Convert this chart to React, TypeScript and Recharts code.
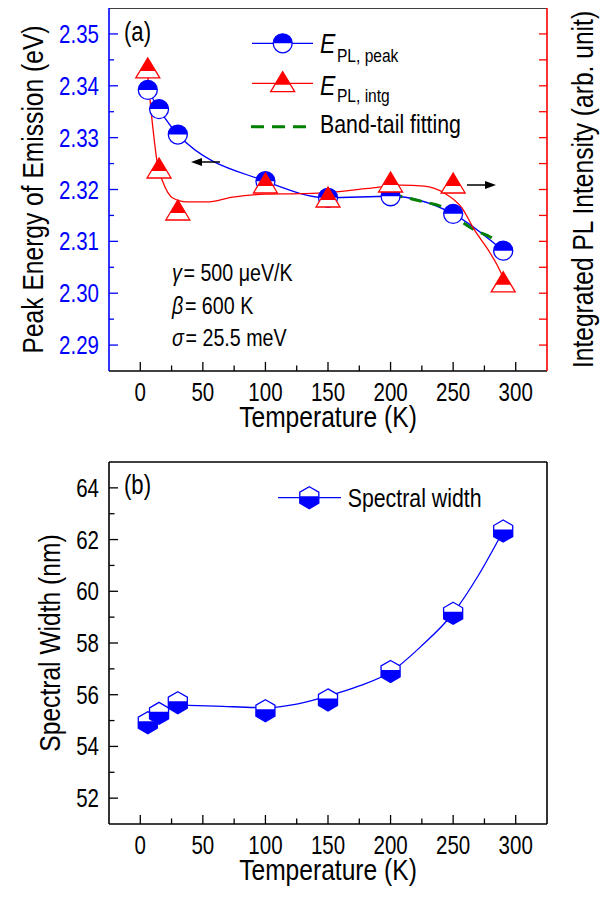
import React from 'react';
import { ComposedChart, Line, XAxis, YAxis, Legend, ReferenceLine } from 'recharts';

const FONT = "'Liberation Sans', Arial, sans-serif";
const SX = 0.82; // horizontal squeeze, the figure uses a narrow face
const BLUE = '#0000ff';
const RED = '#ff0000';
const GREEN = '#008000';
const BLACK = '#000000';

// ---- panel (a): peak energy / integrated intensity vs temperature
const tempA = [6, 15, 30, 100, 150, 200, 250, 290];
const peakEnergy = [2.3392, 2.3355, 2.3306, 2.3216, 2.3184, 2.3187, 2.3153, 2.3082];
const intgIntensity = [11.69, 7.83, 6.21, 7.25, 6.71, 7.29, 7.25, 3.44];

// red guide curve (read off the figure, not through the points)
const intgCurveT = [6, 10, 14, 18, 26, 37, 53, 74, 100, 128, 150, 182, 208, 227, 243, 257, 267, 278, 286, 290];
const intgCurve = [11.4, 9.4, 7.9, 7.3, 6.67, 6.52, 6.52, 6.71, 6.82, 6.84, 6.88, 7.04, 7.17, 7.13, 6.86, 6.29, 5.44, 4.67, 4.01, 3.6];

// green band-tail fit
const bandTailT = [200, 225, 243, 255, 267, 280, 287];
const bandTail = [2.3191, 2.3177, 2.3164, 2.3141, 2.3122, 2.3108, 2.3097];

// ---- panel (b): spectral width
const tempB = [6, 15, 30, 100, 150, 200, 250, 290];
const spectralWidth = [54.92, 55.28, 55.69, 55.38, 55.8, 56.9, 59.15, 62.33];
const widthCurveT = [30, 60, 100, 125, 150, 175, 200, 225, 250, 270, 290];
const widthCurve = [55.6, 55.56, 55.5, 55.64, 55.95, 56.34, 56.88, 57.9, 59.15, 60.6, 62.33];

// ticks
const xTicks = [0, 25, 50, 75, 100, 125, 150, 175, 200, 225, 250, 275, 300];
const energyTicks = [2.29, 2.295, 2.3, 2.305, 2.31, 2.315, 2.32, 2.325, 2.33, 2.335, 2.34, 2.345, 2.35];
const intensityTicks = [1, 2, 3, 4, 5, 6, 7, 8, 9, 10, 11, 12, 13];
const widthTicks = [52, 53, 54, 55, 56, 57, 58, 59, 60, 61, 62, 63, 64];

const pairs = (xs: number[], ys: number[]) => xs.map((t, i) => ({ t, v: ys[i] }));
const peakData = pairs(tempA, peakEnergy);
const intgData = pairs(tempA, intgIntensity);
const intgCurveData = pairs(intgCurveT, intgCurve);
const bandTailData = pairs(bandTailT, bandTail);
const widthData = pairs(tempB, spectralWidth);
const widthCurveData = pairs(widthCurveT, widthCurve);

// plot box (page pixels)
const PL = 109;
const PR = 547;
const A_BOTTOM = 371;
const B_BOTTOM = 374; // relative to panel (b) chart

// narrow text: Liberation Sans squeezed horizontally
function NText({ x, y, size, anchor = 'start', fill = BLACK, rotate = 0, dy, italic, children }: any) {
  const tf = `translate(${x},${y})${rotate ? ` rotate(${rotate})` : ''} scale(${SX},1)`;
  return (
    <text transform={tf} textAnchor={anchor} fontSize={size} fontFamily={FONT} fill={fill} dy={dy}
      fontStyle={italic ? 'italic' : undefined}>
      {children}
    </text>
  );
}

// ---- markers
function HalfCircle({ cx, cy }: any) {
  const r = 9.5;
  return (
    <g>
      <circle cx={cx} cy={cy} r={r} fill="#fff" />
      <path d={`M${cx - r},${cy} A${r},${r} 0 0 1 ${cx + r},${cy} Z`} fill={BLUE} />
      <circle cx={cx} cy={cy} r={r} fill="none" stroke={BLUE} strokeWidth={1.3} />
    </g>
  );
}

function HalfTriangle({ cx, cy }: any) {
  const top = cy - 10, base = cy + 10, split = cy + 3, hw = 12, k = (split - top) / (base - top);
  const full = `${cx},${top} ${cx - hw},${base} ${cx + hw},${base}`;
  return (
    <g>
      <polygon points={full} fill="#fff" />
      <polygon points={`${cx},${top} ${cx - hw * k},${split} ${cx + hw * k},${split}`} fill={RED} />
      <polygon points={full} fill="none" stroke={RED} strokeWidth={1.3} />
    </g>
  );
}

function HalfHexagon({ cx, cy }: any) {
  const r = 11, w = r * Math.cos(Math.PI / 6), s = -1.5;
  const pts = `${cx},${cy - r} ${cx + w},${cy - r / 2} ${cx + w},${cy + r / 2} ${cx},${cy + r} ${cx - w},${cy + r / 2} ${cx - w},${cy - r / 2}`;
  return (
    <g>
      <polygon points={pts} fill="#fff" />
      <polygon points={`${cx - w},${cy + s} ${cx + w},${cy + s} ${cx + w},${cy + r / 2} ${cx},${cy + r} ${cx - w},${cy + r / 2}`} fill={BLUE} />
      <polygon points={pts} fill="none" stroke={BLUE} strokeWidth={1.3} />
    </g>
  );
}

// ---- inward ticks
function XTick({ x, payload, base }: any) {
  const major = payload.value % 50 === 0;
  return (
    <g>
      <line x1={x} x2={x} y1={base} y2={base - (major ? 9 : 5.5)} stroke={BLACK} strokeWidth={1.3} />
      {major && <NText x={x} y={base + 30} size={25} anchor="middle">{payload.value}</NText>}
    </g>
  );
}

function EnergyTick({ y, payload }: any) {
  const v = payload.value;
  const major = Math.abs(v * 100 - Math.round(v * 100)) < 1e-6;
  return (
    <g>
      <line x1={PL} x2={PL + (major ? 9 : 5)} y1={y} y2={y} stroke={BLUE} strokeWidth={1.3} />
      {major && <NText x={PL - 10} y={y} dy="0.36em" size={25} anchor="end" fill={BLUE}>{v.toFixed(2)}</NText>}
    </g>
  );
}

function IntensityTick({ y }: any) {
  return <line x1={PR} x2={PR - 8} y1={y} y2={y} stroke={RED} strokeWidth={1.3} />;
}

function WidthTick({ y, payload }: any) {
  const major = payload.value % 2 === 0;
  return (
    <g>
      <line x1={PL} x2={PL + (major ? 9 : 5.5)} y1={y} y2={y} stroke={BLACK} strokeWidth={1.3} />
      {major && <NText x={PL - 10} y={y} dy="0.36em" size={25} anchor="end">{payload.value}</NText>}
    </g>
  );
}

function WidthTickRight({ y, payload }: any) {
  const major = payload.value % 2 === 0;
  return <line x1={PR} x2={PR - (major ? 9 : 5.5)} y1={y} y2={y} stroke={BLACK} strokeWidth={1.3} />;
}

// axis titles, drawn from the axis viewBox
const xTitle = (gap: number) => (p: any) => {
  const vb = p.viewBox;
  return <NText x={vb.x + vb.width / 2} y={vb.y + gap} size={30} anchor="middle">Temperature (K)</NText>;
};
const yTitle = (text: string, cx: number) => (p: any) => {
  const vb = p.viewBox;
  return <NText x={cx} y={vb.y + vb.height / 2} dy={11} rotate={-90} size={30} anchor="middle">{text}</NText>;
};

// ---- legends
function LegendA() {
  return (
    <svg width={240} height={115} style={{ overflow: 'visible' }}>
      <line x1={7} x2={68} y1={18.3} y2={18.3} stroke={BLUE} strokeWidth={1.3} />
      <HalfCircle cx={37.7} cy={18.3} />
      <NText x={75} y={28.3} size={28}>
        <tspan fontStyle="italic">E</tspan>
        <tspan fontSize={19} dy={8.4} dx={2}>PL, peak</tspan>
      </NText>
      <line x1={7} x2={68} y1={58.3} y2={58.3} stroke={RED} strokeWidth={1.3} />
      <HalfTriangle cx={37.7} cy={56.7} />
      <NText x={75} y={70} size={28}>
        <tspan fontStyle="italic">E</tspan>
        <tspan fontSize={19} dy={6.7} dx={2}>PL, intg</tspan>
      </NText>
      <line x1={6} x2={66} y1={101.7} y2={101.7} stroke={GREEN} strokeWidth={3} strokeDasharray="13 8" />
      <NText x={75} y={108.3} size={26}>Band-tail fitting</NText>
    </svg>
  );
}

function LegendB() {
  return (
    <svg width={220} height={40} style={{ overflow: 'visible' }}>
      <line x1={3} x2={66} y1={17.7} y2={17.7} stroke={BLUE} strokeWidth={1.3} />
      <HalfHexagon cx={34.3} cy={17.7} />
      <NText x={72.7} y={27} size={26}>Spectral width</NText>
    </svg>
  );
}

export default function App() {
  return (
    <div style={{ position: 'relative', width: 608, height: 897, margin: '-8px 0 0 -8px', background: '#fff' }}>

      {/* (a) */}
      <div style={{ position: 'absolute', left: 0, top: 0 }}>
        <ComposedChart width={608} height={450} margin={{ top: 8, right: 0, bottom: 0, left: 0 }}>
          <XAxis
            dataKey="t" type="number" domain={[-25, 325]} ticks={xTicks} interval={0} height={79}
            axisLine={{ stroke: BLACK, strokeWidth: 1.6 }} tickLine={false}
            tick={(p: any) => <XTick {...p} base={A_BOTTOM} />}
            label={xTitle(56)}
          />
          <YAxis
            yAxisId="e" type="number" domain={[2.285, 2.355]} ticks={energyTicks} interval={0} width={PL}
            axisLine={{ stroke: BLUE, strokeWidth: 1.6 }} tickLine={false} tick={(p: any) => <EnergyTick {...p} />}
            label={yTitle('Peak Energy of Emission (eV)', 32)}
          />
          <YAxis
            yAxisId="i" orientation="right" type="number" domain={[0, 14]} ticks={intensityTicks} interval={0} width={608 - PR}
            axisLine={{ stroke: RED, strokeWidth: 1.6 }} tickLine={false} tick={(p: any) => <IntensityTick {...p} />}
            label={yTitle('Integrated PL Intensity (arb. unit)', 582)}
          />
          <ReferenceLine yAxisId="e" y={2.355} stroke={BLACK} strokeWidth={1.6} />
          <Line
            yAxisId="e" data={peakData} dataKey="v" type="monotone" stroke={BLUE} strokeWidth={1.3}
            dot={(p: any) => <HalfCircle key={p.index} cx={p.cx} cy={p.cy} />} activeDot={false} isAnimationActive={false}
          />
          <Line
            yAxisId="e" data={bandTailData} dataKey="v" type="monotone" stroke={GREEN} strokeWidth={3}
            strokeDasharray="12 8" dot={false} activeDot={false} isAnimationActive={false}
          />
          <Line
            yAxisId="i" data={intgData} dataKey="v" stroke="none"
            dot={(p: any) => <HalfTriangle key={p.index} cx={p.cx} cy={p.cy} />} activeDot={false} isAnimationActive={false}
          />
          <Line
            yAxisId="i" data={intgCurveData} dataKey="v" type="monotone" stroke={RED} strokeWidth={1.3}
            dot={false} activeDot={false} isAnimationActive={false}
          />
          <Legend
            layout="horizontal" verticalAlign="middle" align="center"
            wrapperStyle={{ left: 245, top: 25, width: 240, height: 115 }}
            content={() => <LegendA />}
          />
        </ComposedChart>
      </div>

      {/* (b) */}
      <div style={{ position: 'absolute', left: 0, top: 450 }}>
        <ComposedChart width={608} height={447} margin={{ top: 12, right: 0, bottom: 0, left: 0 }}>
          <XAxis
            dataKey="t" type="number" domain={[-25, 325]} ticks={xTicks} interval={0} height={73}
            axisLine={{ stroke: BLACK, strokeWidth: 1.6 }} tickLine={false}
            tick={(p: any) => <XTick {...p} base={B_BOTTOM} />}
            label={xTitle(56)}
          />
          <YAxis
            yAxisId="w" type="number" domain={[51, 65]} ticks={widthTicks} interval={0} width={PL}
            axisLine={{ stroke: BLACK, strokeWidth: 1.6 }} tickLine={false} tick={(p: any) => <WidthTick {...p} />}
            label={yTitle('Spectral Width (nm)', 49)}
          />
          <YAxis
            yAxisId="wr" orientation="right" type="number" domain={[51, 65]} ticks={widthTicks} interval={0} width={608 - PR}
            axisLine={{ stroke: BLACK, strokeWidth: 1.6 }} tickLine={false} tick={(p: any) => <WidthTickRight {...p} />}
          />
          <ReferenceLine yAxisId="w" y={65} stroke={BLACK} strokeWidth={1.6} />
          <Line
            yAxisId="w" data={widthCurveData} dataKey="v" type="monotone" stroke={BLUE} strokeWidth={1.3}
            dot={false} activeDot={false} isAnimationActive={false}
          />
          <Line
            yAxisId="w" data={widthData} dataKey="v" stroke="none"
            dot={(p: any) => <HalfHexagon key={p.index} cx={p.cx} cy={p.cy} />} activeDot={false} isAnimationActive={false}
          />
          <Legend
            layout="horizontal" verticalAlign="middle" align="center"
            wrapperStyle={{ left: 275, top: 30, width: 220, height: 40 }}
            content={() => <LegendB />}
          />
        </ComposedChart>
      </div>

      {/* annotations */}
      <svg width={608} height={897} style={{ position: 'absolute', left: 0, top: 0, pointerEvents: 'none' }}>
        <NText x={124} y={41} size={27}>(a)</NText>
        <NText x={124} y={494} size={27}>(b)</NText>
        <NText x={172} y={281} size={24}>
          <tspan fontStyle="italic">γ</tspan><tspan dx={2}>= 500 μeV/K</tspan>
        </NText>
        <NText x={172} y={313.5} size={24}>
          <tspan fontStyle="italic">β</tspan><tspan dx={2}>= 600 K</tspan>
        </NText>
        <NText x={172} y={346} size={24}>
          <tspan fontStyle="italic">σ</tspan><tspan dx={2}>= 25.5 meV</tspan>
        </NText>
        <line x1={220} x2={200} y1={162} y2={162} stroke={BLACK} strokeWidth={1.5} />
        <polygon points="191,162 202,158 202,166" fill={BLACK} />
        <line x1={467} x2={486} y1={185} y2={185} stroke={BLACK} strokeWidth={1.5} />
        <polygon points="496,185 485,181 485,189" fill={BLACK} />
      </svg>
    </div>
  );
}
